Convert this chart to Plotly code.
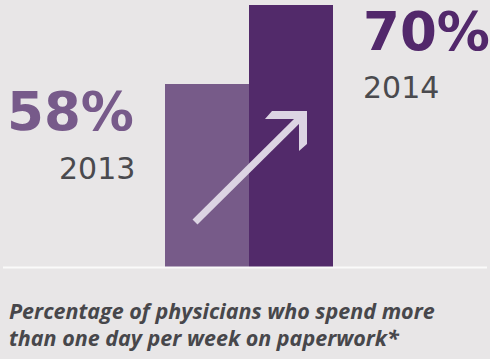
import plotly.graph_objects as go

# ---- data ----
years = ["2013", "2014"]
values = [58, 70]
value_labels = ["58%", "70%"]
bar_colors = ["#775b89", "#522a6a"]
label_colors = ["#775a8a", "#52286b"]
caption_lines = ["Percentage of physicians who spend more",
                 "than one day per week on paperwork*"]

W, H = 490, 359
PLOT_H = 267  # plot area height in px (top margin 0)


def px(x, y):
    """pixel position -> paper coords (plot area spans full width, 0..PLOT_H)"""
    return x / W, (PLOT_H - y) / PLOT_H


fig = go.Figure()
fig.add_trace(go.Bar(
    x=years, y=values,
    marker=dict(color=bar_colors, line=dict(width=0)),
    width=1.0, hoverinfo="skip",
))

# white base line
x0, y0 = px(3, 267.5)
x1, _ = px(487, 267.5)
fig.add_shape(type="line", xref="paper", yref="paper", x0=x0, x1=x1, y0=y0, y1=y0,
              line=dict(color="#fafafa", width=2))

# arrow shaft
ax0, ay0 = px(195, 222)
ax1, ay1 = px(302, 116)
arrow_col = "#dcd4e3"
fig.add_shape(type="line", xref="paper", yref="paper", x0=ax0, y0=ay0, x1=ax1, y1=ay1,
              line=dict(color=arrow_col, width=7))
# arrow head (chevron)
pts = [(272, 111), (307, 111), (307, 144), (299, 151), (299, 119), (265, 119)]
path = "M " + " L ".join(f"{px(a, b)[0]:.5f},{px(a, b)[1]:.5f}" for a, b in pts) + " Z"
fig.add_shape(type="path", xref="paper", yref="paper", path=path,
              fillcolor=arrow_col, line=dict(width=0))

big_font = "DejaVu Sans"
# value labels
lx, ly = px(136, 111)
fig.add_annotation(xref="paper", yref="paper", x=lx, y=ly, text=f"<b>{value_labels[0]}</b>",
                   showarrow=False, xanchor="right", yanchor="middle",
                   font=dict(family=big_font, size=53, color=label_colors[0]))
lx, ly = px(137, 168.5)
fig.add_annotation(xref="paper", yref="paper", x=lx, y=ly, text=years[0],
                   showarrow=False, xanchor="right", yanchor="middle",
                   font=dict(family=big_font, size=30, color="#4a4a4e"))
lx, ly = px(361, 31.5)
fig.add_annotation(xref="paper", yref="paper", x=lx, y=ly, text=f"<b>{value_labels[1]}</b>",
                   showarrow=False, xanchor="left", yanchor="middle",
                   font=dict(family=big_font, size=53, color=label_colors[1]))
lx, ly = px(361, 87)
fig.add_annotation(xref="paper", yref="paper", x=lx, y=ly, text=years[1],
                   showarrow=False, xanchor="left", yanchor="middle",
                   font=dict(family=big_font, size=30, color="#4a4a4e"))

# caption
for line, cy in zip(caption_lines, [310, 337.5]):
    lx, ly = px(7, cy)
    fig.add_annotation(xref="paper", yref="paper", x=lx, y=ly,
                       text=f"<b><i>{line}</i></b>", showarrow=False,
                       xanchor="left", yanchor="middle",
                       font=dict(family="Open Sans", size=21.5, color="#47474b"))

fig.update_layout(
    width=W, height=H,
    margin=dict(l=0, r=0, t=0, b=H - PLOT_H, pad=0),
    paper_bgcolor="#e8e6e7", plot_bgcolor="#e8e6e7",
    showlegend=False, bargap=0,
    xaxis=dict(type="category", range=[-2.464, 3.369], visible=False, fixedrange=True),
    yaxis=dict(range=[30.2, 70.76], visible=False, fixedrange=True),
)

fig.write_html("out.html", config={"displayModeBar": False},
               post_script="document.body.style.margin='0';document.body.style.overflow='hidden';")
